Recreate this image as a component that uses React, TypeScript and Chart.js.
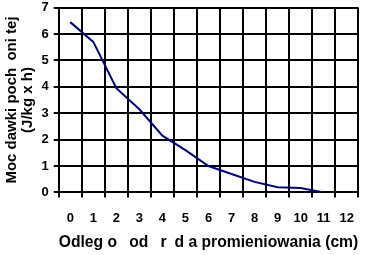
import React, { useEffect, useRef } from "react";
import { Chart, registerables } from "chart.js";

Chart.register(...registerables);

const categories = ["0", "1", "2", "3", "4", "5", "6", "7", "8", "9", "10", "11", "12"];
const doseRate = [6.45, 5.7, 3.95, 3.15, 2.15, 1.6, 1.0, 0.7, 0.4, 0.2, 0.17, 0.0, null];
const yTitle = ["Moc dawki poch\u2009 oni tej", "(J/kg x h)"];
const xTitle = "Odleg o \u2002od \u2002r\u2002d a promieniowania (cm)";

export default function App() {
  const ref = useRef<HTMLCanvasElement | null>(null);
  useEffect(() => {
    if (!ref.current) return;
    const family = "'Liberation Sans', Arial, sans-serif";
    const chart = new Chart(ref.current, {
      type: "line",
      data: {
        labels: categories,
        datasets: [
          {
            data: doseRate,
            borderColor: "#000080",
            borderWidth: 2,
            pointRadius: 0,
            tension: 0,
            fill: false,
          },
        ],
      },
      options: {
        responsive: false,
        animation: false,
        layout: { padding: { top: 4, right: 1, bottom: 3, left: 4 } },
        plugins: { legend: { display: false }, tooltip: { enabled: false } },
        scales: {
          x: {
            type: "category",
            offset: true,
            grid: { offset: true, color: "#000", lineWidth: 2, tickLength: 5, drawTicks: true },
            border: { color: "#000", width: 2 },
            ticks: {
              color: "#000",
              font: { family, weight: "bold" as const, size: 13, lineHeight: 1.2 },
              padding: 13,
              maxRotation: 0,
              autoSkip: false,
            },
            title: {
              display: true,
              text: xTitle,
              color: "#000",
              font: { family, weight: "bold" as const, size: 15.8, lineHeight: 1.2 },
              padding: { top: -6, bottom: 0 },
            },
          },
          y: {
            min: 0,
            max: 7,
            grid: { color: "#000", lineWidth: 2, tickLength: 5 },
            border: { color: "#000", width: 2 },
            ticks: {
              color: "#000",
              font: { family, weight: "bold" as const, size: 13, lineHeight: 0.4 },
              stepSize: 1,
              padding: 5,
            },
            title: {
              display: true,
              text: yTitle,
              color: "#000",
              font: { family, weight: "bold" as const, size: 15, lineHeight: 1.05 },
              padding: { top: 0, bottom: 1 },
            },
          },
        },
      },
    });
    return () => chart.destroy();
  }, []);
  return (
    <div style={{ position: "absolute", left: 0, top: 0, width: 367, height: 255, background: "#fff" }}>
      <canvas ref={ref} width={367} height={255} style={{ width: 367, height: 255 }} />
    </div>
  );
}
